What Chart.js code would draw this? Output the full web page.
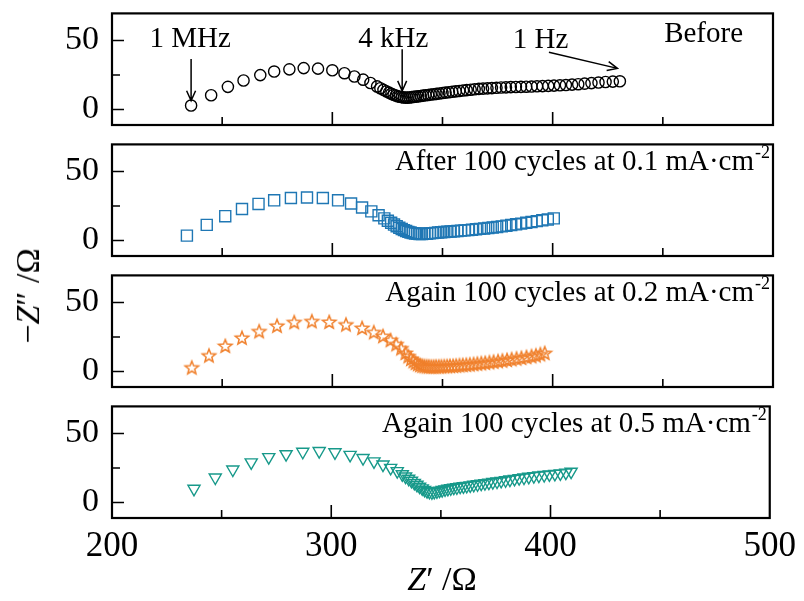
<!DOCTYPE html>
<html>
<head>
<meta charset="utf-8">
<script src="https://cdn.jsdelivr.net/npm/chart.js@4/dist/chart.umd.min.js"></script>
<style>
  body { margin: 0; background: #fff; width: 804px; height: 601px; position: relative; overflow: hidden; font-family: 'Liberation Serif', 'Times New Roman', serif; }
  canvas { position: absolute; left: 0; }
  .ytitle { position: absolute; left: 28px; top: 296px; transform: translate(-50%, -50%) rotate(-90deg); font-size: 34px; white-space: nowrap; }
  .xtitle { position: absolute; left: 442px; top: 579px; transform: translate(-50%, -50%); font-size: 34px; white-space: nowrap; }
</style>
</head>
<body>
<canvas id="p0" width="804" height="601"></canvas>
<canvas id="p1" width="804" height="601"></canvas>
<canvas id="p2" width="804" height="601"></canvas>
<canvas id="p3" width="804" height="601"></canvas>
<div class="ytitle">&minus;<i>Z</i>&Prime; /&Omega;</div>
<div class="xtitle"><i>Z</i>&prime; /&Omega;</div>
<script>
// Nyquist data (Z' and -Z'' in ohm)
const beforeRe = [235.9, 245, 252.6, 259.7, 267.3, 273.6, 280.5, 287, 293.5, 300, 305.5, 310, 314, 317.3, 320.3,
  321.8, 323.2, 324.5, 325.7, 326.8, 327.8, 328.8, 329.7, 330.6, 331.5, 332.4, 333.3, 334.2, 335.1, 336.0,
  337.0, 338.0, 339.0, 340.1, 341.2, 342.3, 343.5, 344.7, 346.0, 347.3, 348.6, 350.0, 351.4, 352.9, 354.4,
  356.0, 357.6, 359.3, 361.0, 362.8, 364.6, 366.5, 368.4, 370.4, 372.4, 374.5, 376.6, 378.8, 381.0, 383.3,
  385.6, 388.0, 390.4, 392.9, 395.4, 398.0, 400.6, 403.3, 406.0, 408.8, 411.6, 414.5, 417.6, 420.8, 424.0,
  427.3, 430.5];
const beforeIm = [2.8, 10.3, 16.4, 21, 24.9, 27.5, 29.1, 30, 29.6, 28.4, 26.3, 23.9, 21.6, 19.2, 16.7,
  15.4, 14.2, 13.1, 12.2, 11.4, 10.7, 10.1, 9.6, 9.2, 8.9, 8.7, 8.6, 8.6, 8.7, 8.9,
  9.1, 9.3, 9.5, 9.8, 10.0, 10.3, 10.5, 10.8, 11.0, 11.3, 11.6, 11.9, 12.2, 12.5, 12.8,
  13.1, 13.4, 13.7, 14.0, 14.3, 14.6, 14.9, 15.1, 15.3, 15.5, 15.7, 15.9, 16.0, 16.2, 16.3,
  16.4, 16.5, 16.6, 16.8, 16.9, 17.1, 17.3, 17.5, 17.7, 18.0, 18.3, 18.7, 19.1, 19.5, 19.9,
  20.2, 20.4];

const c01Re = [234, 243, 251.4, 259, 266.5, 273.6, 281.2, 288.5, 295.7, 302.6, 308.5, 313.5, 317.7, 321, 323.6,
  325.2, 326.7, 328.0, 329.2, 330.4, 331.5, 332.5, 333.5, 334.5, 335.5, 336.5, 337.5, 338.5, 339.6, 340.7,
  341.8, 343.0, 344.2, 345.4, 346.7, 348.0, 349.4, 350.8, 352.2, 353.7, 355.2, 356.8, 358.4, 360.0, 361.7,
  363.4, 365.2, 367.0, 368.9, 370.8, 372.8, 374.8, 376.9, 379.0, 381.2, 383.4, 385.7, 388.0, 390.4, 392.8,
  395.3, 397.8, 400.5];
const c01Im = [3.5, 11.3, 17.6, 22.8, 26.5, 29.1, 30.8, 31.2, 30.8, 29.1, 26.8, 23.9, 21.1, 18.3, 16,
  14.3, 12.8, 11.5, 10.3, 9.2, 8.3, 7.5, 6.8, 6.2, 5.7, 5.3, 5.0, 4.8, 4.7, 4.7,
  4.8, 4.9, 5.1, 5.3, 5.5, 5.7, 5.9, 6.1, 6.3, 6.5, 6.7, 6.9, 7.1, 7.3, 7.5,
  7.8, 8.1, 8.4, 8.7, 9.0, 9.4, 9.8, 10.2, 10.7, 11.2, 11.7, 12.2, 12.8, 13.4, 14.0,
  14.6, 15.2, 16.0];

const c02Re = [236.2, 244, 251.4, 259, 266.8, 274.9, 282.7, 290.7, 298.6, 306.2, 313.5, 318.8, 323, 326.4, 329,
  331.2, 333.2, 334.5, 335.7, 336.8, 337.8, 338.8, 339.8, 340.8, 341.8, 342.8, 343.8, 344.9, 346.0, 347.1,
  348.3, 349.5, 350.8, 352.1, 353.4, 354.8, 356.2, 357.7, 359.2, 360.8, 362.4, 364.1, 365.8, 367.6, 369.4,
  371.3, 373.2, 375.2, 377.2, 379.3, 381.4, 383.6, 385.8, 388.1, 390.4, 392.4, 394.4, 396.4];
const c02Im = [2.8, 11.5, 18.5, 24.4, 29.1, 33.1, 35.7, 36.4, 35.9, 34, 31.5, 28.4, 25.6, 22.7, 19.7,
  16.7, 13.4, 11.0, 9.0, 7.4, 6.2, 5.3, 4.6, 4.1, 3.8, 3.6, 3.5, 3.4, 3.4, 3.5,
  3.5, 3.6, 3.7, 3.8, 3.9, 4.0, 4.2, 4.4, 4.6, 4.8, 5.0, 5.3, 5.6, 5.9, 6.2,
  6.6, 7.0, 7.4, 7.8, 8.3, 8.8, 9.3, 9.8, 10.4, 11.0, 11.6, 12.4, 13.3];

const c05Re = [237.4, 247.1, 255.1, 263.5, 271.5, 279.4, 287, 294.5, 301.7, 308.6, 314.5, 319.5, 323.6, 327.1, 330.1,
  332.4, 333.9, 335.3, 336.6, 337.9, 339.1, 340.3, 341.5, 342.6, 343.7, 344.8, 345.9, 347.0, 348.2, 349.4,
  350.6, 351.9, 353.2, 354.5, 355.9, 357.3, 358.8, 360.3, 361.8, 363.4, 365.0, 366.7, 368.4, 370.1, 371.9,
  373.7, 375.6, 377.5, 379.5, 381.5, 383.6, 385.7, 387.9, 390.1, 392.4, 394.7, 397.1, 399.5, 402.0, 404.5,
  407.0, 409.4];
const c05Im = [9.9, 18.1, 23.9, 29.1, 32.9, 35, 36.8, 37.3, 36.4, 34.5, 32.2, 29.8, 27.5, 25.1, 22.7,
  20.4, 18.8, 17.2, 15.7, 14.2, 12.8, 11.4, 10.2, 9.1, 8.2, 7.6, 7.4, 7.6, 8.0, 8.5,
  9.0, 9.5, 9.9, 10.3, 10.7, 11.0, 11.4, 11.7, 12.0, 12.4, 12.8, 13.2, 13.6, 14.0, 14.4,
  14.8, 15.2, 15.6, 16.1, 16.6, 17.1, 17.6, 18.1, 18.6, 19.1, 19.5, 19.9, 20.3, 20.7, 21.1,
  21.6, 22.3];

// axis ticks
const xLabelTicks = [200, 300, 400, 500];
const xMajorTicks = [300, 400];
const xMinorTicks = [250, 350, 450];
const yLabelTicks = [0, 50];
const yMinorTicks = [25];

const PANEL_TOPS = [10, 141, 272, 403];
const PANEL_H = 115;
const PAD_TOP = 30;
const FONT = "'Liberation Serif', 'Times New Roman', serif";

function zip(xs, ys) {
  return xs.map((v, i) => ({ x: v, y: ys[i] }));
}

function starImage(color) {
  const c = document.createElement('canvas');
  c.width = 18; c.height = 18;
  const g = c.getContext('2d');
  g.strokeStyle = color;
  g.lineWidth = 1.5;
  g.beginPath();
  for (let i = 0; i < 10; i++) {
    const r = i % 2 === 0 ? 7 : 3;
    const a = -Math.PI / 2 + i * Math.PI / 5;
    const px = 9 + r * Math.cos(a), py = 9.5 + r * Math.sin(a);
    if (i === 0) g.moveTo(px, py); else g.lineTo(px, py);
  }
  g.closePath();
  g.stroke();
  return c;
}

function arrow(ctx, x1, y1, x2, y2) {
  const ang = Math.atan2(y2 - y1, x2 - x1);
  const L = 11, spread = 0.42;
  ctx.beginPath();
  ctx.moveTo(x1, y1);
  ctx.lineTo(x2, y2);
  ctx.moveTo(x2 - L * Math.cos(ang - spread), y2 - L * Math.sin(ang - spread));
  ctx.lineTo(x2, y2);
  ctx.lineTo(x2 - L * Math.cos(ang + spread), y2 - L * Math.sin(ang + spread));
  ctx.stroke();
}

// box, inward ticks, text notes and arrows
const framePlugin = {
  id: 'frame',
  afterDatasetsDraw(chart, args, opts) {
    const { ctx, chartArea: a } = chart;
    const x = chart.scales.x, y = chart.scales.y;
    ctx.save();
    ctx.strokeStyle = '#000';
    ctx.lineWidth = 1.6;
    ctx.beginPath();
    xMajorTicks.forEach(v => { const p = x.getPixelForValue(v); ctx.moveTo(p, a.bottom); ctx.lineTo(p, a.bottom - 13); });
    xMinorTicks.forEach(v => { const p = x.getPixelForValue(v); ctx.moveTo(p, a.bottom); ctx.lineTo(p, a.bottom - 8); });
    yLabelTicks.forEach(v => { const p = y.getPixelForValue(v); ctx.moveTo(a.left, p); ctx.lineTo(a.left + 12, p); });
    yMinorTicks.forEach(v => { const p = y.getPixelForValue(v); ctx.moveTo(a.left, p); ctx.lineTo(a.left + 8, p); });
    ctx.stroke();
    ctx.lineWidth = 2.2;
    ctx.strokeRect(a.left, a.top, a.right - a.left, a.bottom - a.top);

    ctx.fillStyle = '#000';
    ctx.textBaseline = 'middle';
    ctx.textAlign = 'left';
    (opts.notes || []).forEach(n => {
      const px = x.getPixelForValue(n.x), py = y.getPixelForValue(n.y);
      ctx.font = '29px ' + FONT;
      const w = ctx.measureText(n.text).width;
      let sw = 0;
      if (n.sup) { ctx.font = '18px ' + FONT; sw = ctx.measureText(n.sup).width; }
      const total = w + sw;
      const x0 = n.align === 'right' ? px - total : px - total / 2;
      ctx.font = '29px ' + FONT;
      ctx.fillText(n.text, x0, py);
      if (n.sup) { ctx.font = '18px ' + FONT; ctx.fillText(n.sup, x0 + w + 1, py - 9); }
    });
    ctx.lineWidth = 1.5;
    (opts.arrows || []).forEach(r => {
      arrow(ctx, x.getPixelForValue(r[0]), y.getPixelForValue(r[1]), x.getPixelForValue(r[2]), y.getPixelForValue(r[3]));
    });
    ctx.restore();
  }
};

const panels = [
  {
    data: zip(beforeRe, beforeIm), color: '#000', style: 'circle', radius: 5.6, rotation: 0,
    notes: [
      { text: '1 MHz', x: 235.5, y: 50.7 },
      { text: '4 kHz', x: 327.7, y: 50.7 },
      { text: '1 Hz', x: 394.5, y: 50 },
      { text: 'Before', x: 486.4, y: 54.5, align: 'right' }
    ],
    arrows: [[235.9, 36.6, 235.9, 6.3], [331.7, 43.7, 331.7, 13.4], [398.3, 41.5, 429.4, 29.8]]
  },
  {
    data: zip(c01Re, c01Im), color: '#1f77b4', style: 'rect', radius: 7.8, rotation: 0,
    notes: [{ text: 'After 100 cycles at 0.1 mA\u00b7cm', sup: '-2', x: 498.2, y: 56.5, align: 'right' }]
  },
  {
    data: zip(c02Re, c02Im), color: '#f0802c', style: starImage('#f0802c'), radius: 7, rotation: 0,
    notes: [{ text: 'Again 100 cycles at 0.2 mA\u00b7cm', sup: '-2', x: 498.2, y: 56.5, align: 'right' }]
  },
  {
    data: zip(c05Re, c05Im), color: '#17998a', style: 'triangle', radius: 7, rotation: 180,
    notes: [{ text: 'Again 100 cycles at 0.5 mA\u00b7cm', sup: '-2', x: 498.2, y: 56.5, align: 'right' }]
  }
];

panels.forEach((p, i) => {
  const canvas = document.getElementById('p' + i);
  canvas.style.top = (PANEL_TOPS[i] - PAD_TOP) + 'px';
  const isLast = i === panels.length - 1;
  new Chart(canvas.getContext('2d'), {
    type: 'scatter',
    data: {
      datasets: [{
        data: p.data,
        pointStyle: p.style,
        pointRadius: p.radius,
        pointRotation: p.rotation,
        borderColor: p.color,
        backgroundColor: 'rgba(0,0,0,0)',
        pointBorderWidth: 1.4,
        showLine: false
      }]
    },
    options: {
      responsive: false,
      animation: false,
      layout: { padding: { top: PAD_TOP, right: 31, left: 0, bottom: 0 } },
      plugins: {
        legend: { display: false },
        tooltip: { enabled: false },
        frame: { notes: p.notes, arrows: p.arrows }
      },
      scales: {
        x: {
          type: 'linear', min: 200, max: 500,
          grid: { display: false, drawTicks: false },
          border: { display: false },
          ticks: { display: isLast, color: '#000', font: { family: FONT, size: 35 }, padding: 8, maxRotation: 0 },
          afterBuildTicks: axis => { axis.ticks = xLabelTicks.map(v => ({ value: v })); },
          afterFit: axis => { axis.height = 601 - (PAD_TOP + PANEL_H); }
        },
        y: {
          min: -11.3, max: 69.7,
          grid: { display: false, drawTicks: false },
          border: { display: false },
          ticks: { color: '#000', font: { family: FONT, size: 34 }, padding: 13 },
          afterBuildTicks: axis => { axis.ticks = yLabelTicks.map(v => ({ value: v })); },
          afterFit: axis => { axis.width = 112; }
        }
      }
    },
    plugins: [framePlugin]
  });
});
</script>
</body>
</html>
